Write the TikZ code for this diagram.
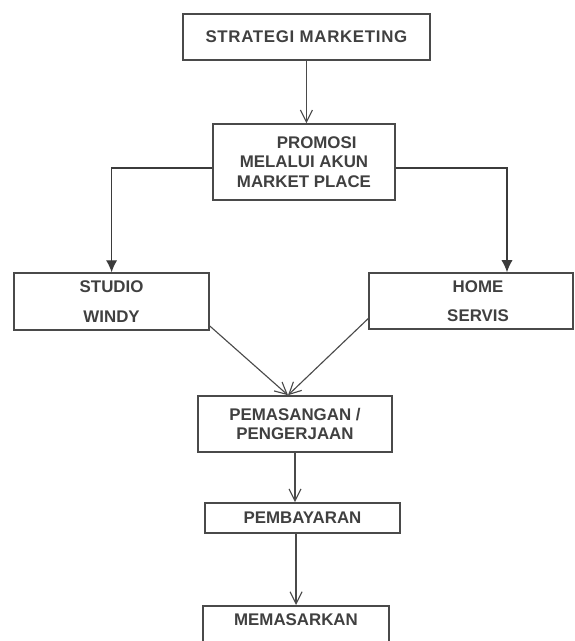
\documentclass[tikz,border=0pt]{standalone}
\usepackage{fontspec}
\setmainfont{Liberation Sans}
\usetikzlibrary{positioning,arrows.meta}
\definecolor{lineg}{HTML}{4A4A4A}
\definecolor{textg}{HTML}{404040}

\begin{document}
\begin{tikzpicture}[
  box/.style={draw=lineg, line width=1.1pt, align=center, text=textg,
              font=\fontsize{12}{14}\selectfont\bfseries, inner sep=3pt},
  barb/.style={-{Straight Barb[length=3mm,width=3mm]}, lineg, line width=0.8pt},
  tri/.style={-{Latex[length=3mm,width=2.8mm]}, lineg!80!black, line width=0.9pt},
]
\clip (0,0) rectangle (14.35,-16.025);

% ---- Top: strategy and promotion ----
\node[box, minimum width=6.175cm, minimum height=1.15cm] (strat) at (7.66,-0.925)
  {\addfontfeature{LetterSpace=4}STRATEGI MARKETING};
\node[box, minimum width=4.55cm, minimum height=1.9cm] (promo) at (7.6,-4.05)
  {\hspace*{18pt}PROMOSI\\MELALUI AKUN\\MARKET PLACE};

\draw[barb] (strat.south) -- (strat.south |- promo.north);

% ---- Middle: two channels ----
\node[box, minimum width=4.875cm, minimum height=1.425cm] (studio) at (2.79,-7.54)
  {STUDIO\\[8pt]WINDY};
\node[box, minimum width=5.1cm, minimum height=1.4cm] (home) at (11.775,-7.525)
  {\hspace*{10pt}HOME\\[7pt]\hspace*{10pt}SERVIS};

\draw[tri] ([yshift=-0.15cm]promo.west) -| (studio.north);
\draw[tri] ([yshift=-0.15cm]promo.east) -| ([xshift=0.9cm]home.north);

% ---- Bottom: work, payment, marketing ----
\node[box, minimum width=4.85cm, minimum height=1.4cm] (pasang) at (7.375,-10.6)
  {PEMASANGAN /\\PENGERJAAN};
\node[box, minimum width=4.875cm, minimum height=0.75cm] (bayar) at (7.5625,-12.95)
  {PEMBAYARAN};
\node[box, minimum width=4.65cm, anchor=north, inner ysep=0.2cm, text depth=0.9cm]
  (pasar) at (7.4,-15.125) {MEMASARKAN};

\draw[barb] ([yshift=0.12cm]studio.south east) -- ([xshift=-0.175cm]pasang.north);
\draw[barb] ([yshift=0.28cm]home.south west) -- ([xshift=-0.175cm]pasang.north);
\draw[barb] (pasang.south) -- (pasang.south |- bayar.north);
\draw[barb] (pasar.north |- bayar.south) -- (pasar.north);

\end{tikzpicture}
\end{document}
